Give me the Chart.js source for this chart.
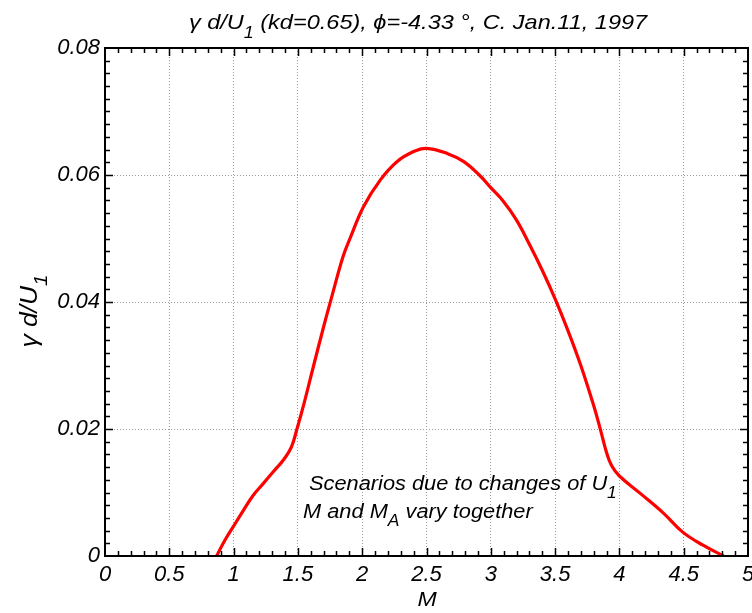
<!DOCTYPE html>
<html>
<head>
<meta charset="utf-8">
<script src="https://cdn.jsdelivr.net/npm/chart.js@4"></script>
<style>
  html, body { margin: 0; padding: 0; background: #fff; }
  #wrap { width: 752px; height: 613px; position: relative; }
</style>
</head>
<body>
<div id="wrap"><canvas id="growthChart" width="752" height="613"></canvas></div>
<script>
// M values along the curve and growth rate gamma d / U1
var machValues = [0.868, 0.93, 1.0, 1.08, 1.15, 1.23, 1.31, 1.39, 1.45, 1.49, 1.55, 1.62, 1.7, 1.763, 1.85, 1.905,
                  2.01, 2.14, 2.27, 2.4, 2.5, 2.66, 2.79, 2.92, 3.0, 3.1, 3.2, 3.3, 3.4, 3.5, 3.6, 3.7, 3.8,
                  3.85, 3.9, 3.94, 4.0, 4.16, 4.34, 4.49, 4.65, 4.81];
var growthRate = [0, 0.0024, 0.0047, 0.0073, 0.0095, 0.0114, 0.0133, 0.0152, 0.0172, 0.0198, 0.0242, 0.0298, 0.0361, 0.0408, 0.0471, 0.0500,
                  0.0550, 0.0592, 0.0621, 0.0637, 0.0642, 0.0634, 0.0621, 0.0598, 0.0580, 0.0558, 0.0529, 0.0491, 0.0450, 0.0405, 0.0355, 0.0300, 0.0237,
                  0.0201, 0.0163, 0.0142, 0.0126, 0.0099, 0.0068, 0.0038, 0.0017, 0];
var xTicks = [0, 0.5, 1, 1.5, 2, 2.5, 3, 3.5, 4, 4.5, 5];
var yTicks = [0, 0.02, 0.04, 0.06, 0.08];

var FONT = '"Liberation Sans", Arial, sans-serif';

var points = machValues.map(function(m, i){ return {x: m, y: growthRate[i]}; });

// text with subscripts: parts = [[text, isSub], ...], sx = horizontal stretch
function richText(ctx, parts, x, y, size, align, sx){
    sx = sx || 1;
    var subSize = Math.round(size * 0.78);
    var w = 0;
    parts.forEach(function(p){
        ctx.font = 'italic ' + (p[1] ? subSize : size) + 'px ' + FONT;
        w += ctx.measureText(p[0]).width;
    });
    ctx.save();
    ctx.translate(x, y);
    ctx.scale(sx, 1);
    var cx = align === 'center' ? -w / 2 : 0;
    ctx.textAlign = 'left';
    ctx.textBaseline = 'alphabetic';
    parts.forEach(function(p){
        ctx.font = 'italic ' + (p[1] ? subSize : size) + 'px ' + FONT;
        ctx.fillText(p[0], cx, p[1] ? size * 0.42 : 0);
        cx += ctx.measureText(p[0]).width;
    });
    ctx.restore();
}

var framePlugin = {
    id: 'matlabFrame',
    afterDraw: function(chart){
        var ctx = chart.ctx, a = chart.chartArea;
        var xs = chart.scales.x, ys = chart.scales.y;
        ctx.save();
        ctx.strokeStyle = '#000';
        ctx.fillStyle = '#000';
        // inward ticks on all four sides
        ctx.lineWidth = 1.5;
        ctx.beginPath();
        for (var i = 1; i < 50; i++) {
            var v = i / 10;
            var px = Math.round(xs.getPixelForValue(v)) + 0.5;
            var len = (i % 5 === 0) ? 8 : 5;
            ctx.moveTo(px, a.bottom); ctx.lineTo(px, a.bottom - len);
            ctx.moveTo(px, a.top); ctx.lineTo(px, a.top + len);
        }
        for (var j = 1; j < 40; j++) {
            var vy = j * 0.002;
            var py = Math.round(ys.getPixelForValue(vy)) + 0.5;
            var ly = (j % 10 === 0) ? 8 : 5;
            ctx.moveTo(a.left, py); ctx.lineTo(a.left + ly, py);
            ctx.moveTo(a.right, py); ctx.lineTo(a.right - ly, py);
        }
        ctx.stroke();
        // frame
        ctx.lineWidth = 2;
        ctx.strokeRect(a.left, a.top, a.right - a.left, a.bottom - a.top);

        // title
        richText(ctx, [['\u03b3 d/U', false], ['1', true], [' (kd=0.65), \u03d5=-4.33 \u00b0, C. Jan.11, 1997', false]],
                 418, 29, 21, 'center', 1.12);
        // x axis title
        richText(ctx, [['M', false]], 427, 606, 21, 'center', 1.1);
        // y axis title
        ctx.save();
        ctx.translate(37, 311);
        ctx.rotate(-Math.PI / 2);
        richText(ctx, [['\u03b3 d/U', false], ['1', true]], 0, 0, 24, 'center', 1.1);
        ctx.restore();
        // annotation
        richText(ctx, [['Scenarios due to changes of U', false], ['1', true]], 309, 490, 20, 'left', 1.09);
        richText(ctx, [['M and M', false], ['A', true], [' vary together', false]], 303, 518, 20, 'left', 1.09);
        ctx.restore();
    }
};

var ctxL = document.getElementById('growthChart').getContext('2d');
var growthChart = new Chart(ctxL, {
    type: 'line',
    data: {
        datasets: [{
            label: 'gamma d/U1',
            data: points,
            borderColor: '#ff0000',
            backgroundColor: '#ff0000',
            borderWidth: 3.2,
            pointRadius: 0,
            fill: false,
            tension: 0.4
        }]
    },
    options: {
        responsive: false,
        animation: false,
        devicePixelRatio: 1,
        layout: { padding: { top: 48, right: 4, left: 0, bottom: 0 } },
        plugins: {
            legend: { display: false },
            title: { display: false },
            tooltip: { enabled: false }
        },
        scales: {
            x: {
                type: 'linear',
                min: 0, max: 5,
                afterBuildTicks: function(scale){ scale.ticks = xTicks.map(function(v){ return {value: v}; }); },
                afterFit: function(scale){ scale.height = 57; scale.paddingRight = 0; scale.paddingLeft = 0; },
                ticks: {
                    color: '#000',
                    padding: 6,
                    maxRotation: 0,
                    autoSkip: false,
                    callback: function(v){ return String(v); },
                    font: { family: FONT, size: 22, style: 'italic' }
                },
                grid: { color: '#9a9a9a', lineWidth: 1, drawTicks: false },
                border: { display: false, dash: [1, 2] }
            },
            y: {
                min: 0, max: 0.08,
                afterBuildTicks: function(scale){ scale.ticks = yTicks.map(function(v){ return {value: v}; }); },
                afterFit: function(scale){ scale.width = 105; },
                ticks: {
                    color: '#000',
                    padding: 5,
                    autoSkip: false,
                    callback: function(v){ return String(v); },
                    font: { family: FONT, size: 22, style: 'italic' }
                },
                grid: { color: '#9a9a9a', lineWidth: 1, drawTicks: false },
                border: { display: false, dash: [1, 2] }
            }
        }
    },
    plugins: [framePlugin]
});
</script>
</body>
</html>
